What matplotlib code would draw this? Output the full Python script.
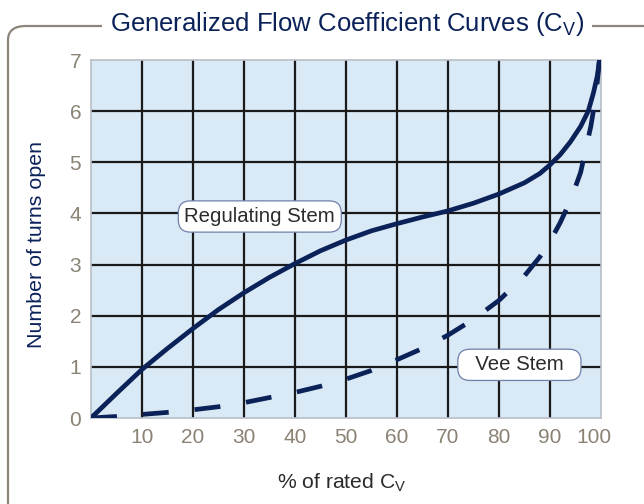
"""
Generalized flow coefficient curves for regulating and vee stems.
"""

import matplotlib
matplotlib.use('Agg')
import matplotlib.pyplot as plt
from matplotlib.patches import FancyBboxPatch
from matplotlib.transforms import ScaledTranslation

plt.rcParams['font.family'] = ['Liberation Sans', 'DejaVu Sans']
plt.rcParams['mathtext.fontset'] = 'custom'
plt.rcParams['mathtext.rm'] = 'Liberation Sans'
plt.rcParams['mathtext.it'] = 'Liberation Sans'

NAVY = '#0b2259'
TICK_GREY = '#8a8274'
FRAME_GREY = '#8c8579'

# percent of rated Cv vs. number of turns open
reg_pct = [0, 5, 10, 15, 20, 25, 30, 35, 40, 45, 50, 55, 60, 65, 70, 75,
           80, 85, 88, 90, 92, 94, 96, 97.5, 98.5, 99.3, 99.7]
reg_turns = [0, 0.48, 0.95, 1.36, 1.75, 2.12, 2.45, 2.75, 3.02, 3.27, 3.48,
             3.66, 3.8, 3.93, 4.05, 4.2, 4.38, 4.6, 4.78, 4.95, 5.15, 5.4,
             5.7, 6.0, 6.35, 6.7, 7.0]

vee_pct = [0, 5, 10, 15, 20, 25, 30, 35, 40, 45, 50, 55, 60, 65, 70, 75,
           80, 85, 88, 90, 92, 94, 96, 98, 99, 99.7]
vee_turns = [0, 0.03, 0.07, 0.11, 0.16, 0.22, 0.3, 0.4, 0.5, 0.62, 0.76,
             0.93, 1.14, 1.36, 1.62, 1.93, 2.3, 2.78, 3.15, 3.45, 3.82, 4.25,
             4.8, 5.7, 6.3, 7.0]

xticks = [10, 20, 30, 40, 50, 60, 70, 80, 90, 100]
yticks = [0, 1, 2, 3, 4, 5, 6, 7]


def main():
    fig = plt.figure(figsize=(6.44, 5.04), dpi=100)

    # rounded frame running off the right and bottom edges
    frame = FancyBboxPatch((8 / 644, -0.2), 1.2, 1 - 26 / 504 + 0.2,
                           boxstyle='round,pad=0,rounding_size=0.028',
                           transform=fig.transFigure, fill=False,
                           edgecolor=FRAME_GREY, linewidth=1.6)
    fig.patches.append(frame)
    fig.text(347 / 644, 1 - 24 / 504,
             'Generalized Flow Coefficient Curves (C$_\\mathrm{V}$)',
             ha='center', va='center', color=NAVY, fontsize=18.5,
             bbox=dict(facecolor='white', edgecolor='none', pad=6))

    ax = fig.add_axes([91 / 644, 1 - 418 / 504, 510 / 644, 358 / 504])
    ax.set_facecolor('#dae9f6')
    ax.set_xlim(0, 100)
    ax.set_ylim(0, 7)
    ax.set_xticks(xticks)
    ax.set_yticks(yticks)
    ax.tick_params(length=0, colors=TICK_GREY, labelsize=15)
    ax.tick_params(axis='x', pad=7)
    ax.tick_params(axis='y', pad=7)

    # nudge the "100" label left, as in the original
    last = ax.xaxis.get_major_ticks()[-1].label1
    last.set_transform(last.get_transform() +
                       ScaledTranslation(-7 / 100, 0, fig.dpi_scale_trans))

    for x in xticks[:-1]:
        ax.axvline(x, color='#1a1a1a', lw=1.6, zorder=1)
    for y in yticks[1:-1]:
        ax.axhline(y, color='#1a1a1a', lw=1.6, zorder=1)
    for s in ax.spines.values():
        s.set_color('#b8bec8')
        s.set_linewidth(1.2)

    ax.plot(reg_pct, reg_turns, color=NAVY, lw=3.4, zorder=3,
            solid_capstyle='butt')
    ax.plot(vee_pct, vee_turns, color=NAVY, lw=3.4, zorder=3,
            dashes=(5.5, 5.5), dash_capstyle='butt')

    box = dict(boxstyle='round,pad=0.3,rounding_size=0.6',
               facecolor='white', edgecolor='#6e80a8', linewidth=0.9)
    ax.text(33.1, 3.94, 'Regulating Stem', ha='center', va='center',
            fontsize=14.7, color='#2b2b2b', bbox=box, zorder=4)
    ax.text(84.0, 1.04, '  Vee Stem  ', ha='center', va='center',
            fontsize=14.7, color='#2b2b2b', bbox=box, zorder=4)

    ax.set_xlabel('% of rated C$_\\mathrm{V}$', fontsize=15.2,
                  color='#2b2b2b')
    ax.set_ylabel('Number of turns open', fontsize=15.4, color=NAVY)
    ax.xaxis.set_label_coords(0.492, -0.149)
    ax.yaxis.set_label_coords(-0.088, 0.486)

    fig.savefig('out.png', dpi=100)


if __name__ == '__main__':
    main()
